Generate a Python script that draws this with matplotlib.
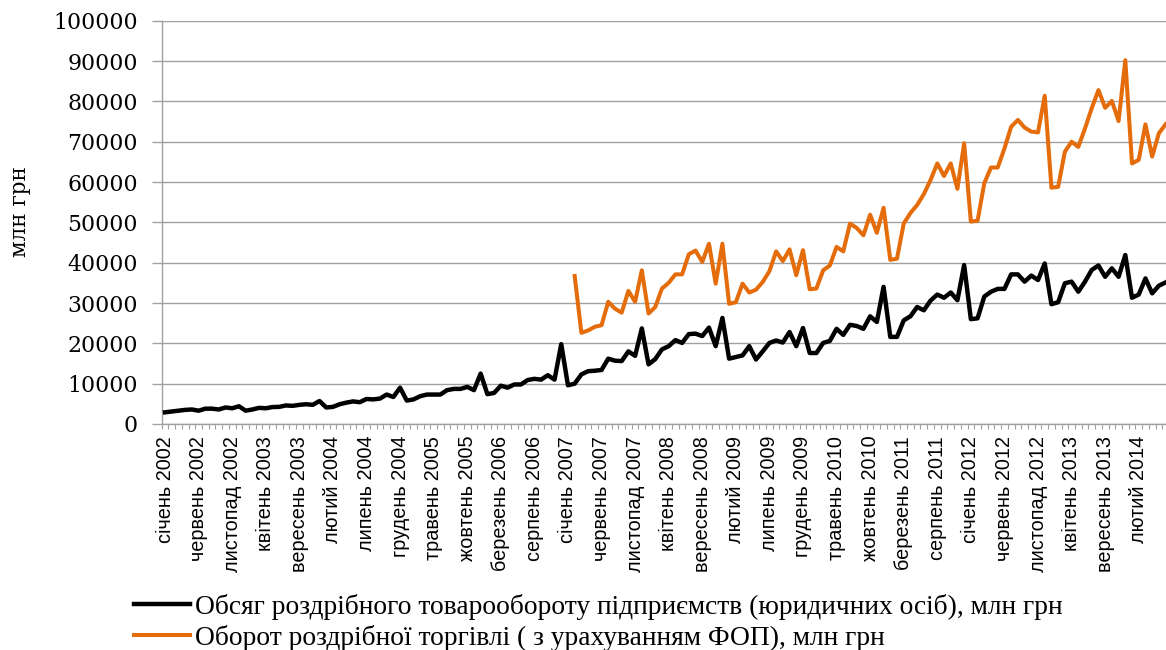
import matplotlib
matplotlib.use("Agg")
import matplotlib.pyplot as plt
import numpy as np
from matplotlib.ticker import FixedLocator

# ---------------- data ----------------
tick_labels = ['січень 2002', 'червень 2002', 'листопад 2002', 'квітень 2003', 'вересень 2003',
               'лютий 2004', 'липень 2004', 'грудень 2004', 'травень 2005', 'жовтень 2005',
               'березень 2006', 'серпень 2006', 'січень 2007', 'червень 2007', 'листопад 2007',
               'квітень 2008', 'вересень 2008', 'лютий 2009', 'липень 2009', 'грудень 2009',
               'травень 2010', 'жовтень 2010', 'березень 2011', 'серпень 2011', 'січень 2012',
               'червень 2012', 'листопад 2012', 'квітень 2013', 'вересень 2013', 'лютий 2014']
label_step = 5  # one label every 5 months

# Обсяг роздрібного товарообороту підприємств, Jan 2002 .. Jun 2014
enterprises = [
    2900, 3100, 3300, 3500, 3600, 3300, 3800, 3800, 3600, 4100, 3900, 4400,          # 2002
    3300, 3600, 4000, 3900, 4200, 4250, 4600, 4500, 4750, 4900, 4750, 5700,          # 2003
    4100, 4250, 4900, 5300, 5600, 5400, 6200, 6100, 6300, 7300, 6700, 9000,          # 2004
    5800, 6100, 6900, 7300, 7300, 7300, 8400, 8700, 8700, 9200, 8400, 12500,         # 2005
    7400, 7700, 9500, 9000, 9800, 9800, 10900, 11200, 11000, 12100, 11000, 19800,    # 2006
    9600, 10000, 12300, 13100, 13200, 13400, 16200, 15700, 15600, 18000, 16900, 23700,  # 2007
    14800, 16100, 18500, 19300, 20800, 20100, 22300, 22400, 21800, 23900, 19300, 26300,  # 2008
    16200, 16600, 17000, 19300, 16000, 18000, 20100, 20700, 20200, 22800, 19300, 23800,  # 2009
    17600, 17600, 20100, 20600, 23600, 22100, 24600, 24300, 23600, 26700, 25300, 34000,  # 2010
    21600, 21600, 25700, 26700, 29000, 28200, 30600, 32100, 31300, 32600, 30700, 39400,  # 2011
    26000, 26200, 31600, 32800, 33500, 33500, 37100, 37100, 35300, 36800, 35700, 39800,  # 2012
    29700, 30200, 34900, 35300, 32800, 35300, 38200, 39300, 36500, 38600, 36500, 41900,  # 2013
    31300, 32100, 36100, 32400, 34300, 35100,                                            # 2014
]

# Оборот роздрібної торгівлі (з урахуванням ФОП), Feb 2007 .. Jun 2014
total_retail = [
    36700, 22600, 23200, 24100, 24500, 30300, 28600, 27600, 33000, 30300, 38100,         # 2007
    27400, 29000, 33600, 35000, 37100, 37100, 42100, 43000, 40200, 44700, 34800, 44700,  # 2008
    29800, 30200, 34800, 32600, 33300, 35200, 37900, 42800, 40400, 43300, 36900, 43100,  # 2009
    33400, 33600, 38100, 39300, 43900, 42800, 49700, 48600, 46800, 51900, 47400, 53600,  # 2010
    40700, 41000, 49700, 52300, 54300, 57000, 60500, 64600, 61500, 64600, 58300, 69600,  # 2011
    50200, 50400, 59700, 63600, 63600, 68300, 73700, 75400, 73500, 72500, 72300, 81400,  # 2012
    58600, 58800, 67500, 70000, 68700, 73300, 78300, 82800, 78400, 80100, 75100, 90200,  # 2013
    64600, 65500, 74300, 66300, 72100, 74300,                                            # 2014
]

series_labels = ['Обсяг роздрібного товарообороту підприємств (юридичних осіб), млн грн',
                 'Оборот роздрібної торгівлі ( з урахуванням ФОП), млн грн']
y_label = 'млн грн'

# ---------------- figure ----------------
W, H = 1166, 650
fig = plt.figure(figsize=(W / 100, H / 100), dpi=100)
left_px, right_px, top_px, bottom_px = 161.7, 1166, 20.7, 424
ax = fig.add_axes([left_px / W, 1 - bottom_px / H,
                   (right_px - left_px) / W, (bottom_px - top_px) / H])

n = len(enterprises)
x_all = np.arange(n)
x_orange = x_all[n - len(total_retail):]

grid_c = '#a0a0a0'
ax.plot(x_all, enterprises, color='black', lw=3.2, solid_joinstyle='round', zorder=3)
ax.plot(x_orange, total_retail, color='#E46C0A', lw=2.9, solid_joinstyle='round', zorder=3)

cat_w = 6.715  # px per category
ax.set_xlim(-0.5, -0.5 + (right_px - left_px) / cat_w)
ax.set_ylim(0, 100000)

ax.set_yticks(np.arange(0, 100001, 10000))
ax.yaxis.grid(True, color=grid_c, lw=1.0)
ax.set_axisbelow(True)

ax.xaxis.set_major_locator(FixedLocator(np.arange(0, n, label_step)))
ax.set_xticklabels(tick_labels, rotation=90, family='Liberation Sans', fontsize=14.3)
ax.xaxis.set_minor_locator(FixedLocator(np.arange(-0.5, n + 0.5, 1)))
ax.tick_params(axis='x', which='major', length=0, pad=8.5)
ax.tick_params(axis='x', which='minor', length=3.6, color=grid_c, width=0.8, direction='out')
ax.tick_params(axis='y', which='major', length=7.2, color=grid_c, width=1.0, pad=10)
for lab in ax.get_yticklabels():
    lab.set_family('DejaVu Serif')
    lab.set_fontsize(15.8)

for s in ['top', 'right']:
    ax.spines[s].set_visible(False)
for s in ['left', 'bottom']:
    ax.spines[s].set_color(grid_c)
    ax.spines[s].set_linewidth(1.0)

fig.text(20 / W, 1 - 212 / H, y_label, rotation=90, ha='center', va='center',
         family='DejaVu Serif', fontsize=15.5)

handles = ax.get_lines()
fig.legend(handles, series_labels, loc='upper left',
           bbox_to_anchor=(134 / W, 1 - 594 / H), frameon=False,
           prop={'family': 'Liberation Serif', 'size': 19.8},
           handlelength=2.05, handletextpad=0.18, borderpad=0, borderaxespad=0,
           labelspacing=0.18)

fig.savefig('out.png', dpi=100)
